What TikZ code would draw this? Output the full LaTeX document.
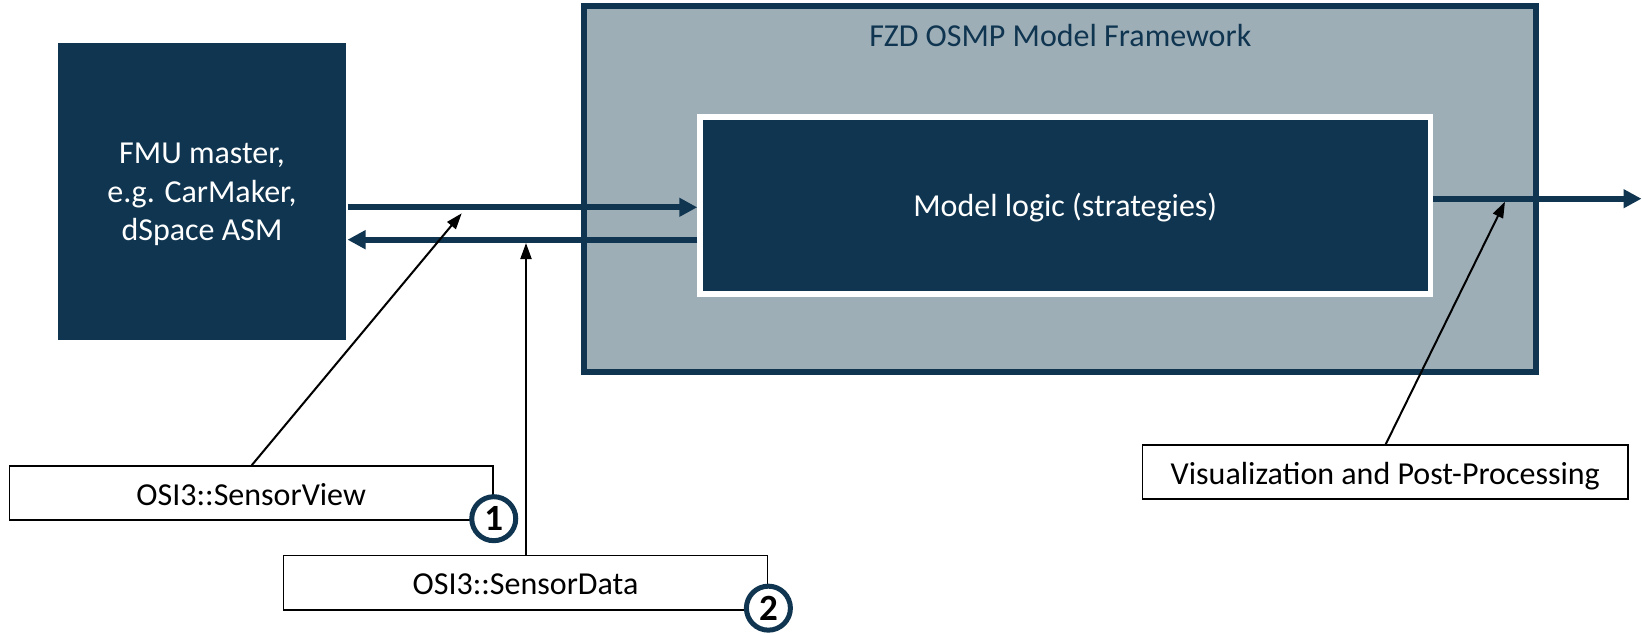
\documentclass[tikz,border=0pt]{standalone}
\usepackage{fontspec}
\setmainfont{Carlito}
\usetikzlibrary{arrows.meta}
\definecolor{navy}{HTML}{0F3550}
\definecolor{framefill}{HTML}{9EAEB7}

\begin{document}
\begin{tikzpicture}[x=1pt,y=-1pt,
  darkbox/.style={fill=navy,text=white,align=center,inner sep=0pt,
    font=\fontsize{32}{38.4}\selectfont},
  tag/.style={draw=black,line width=1.4pt,fill=white,inner sep=0pt,
    text height=24pt,text depth=0pt,font=\fontsize{32}{38}\selectfont},
  badge/.style={circle,draw=navy,line width=5pt,fill=white,minimum size=44pt,
    inner sep=0pt,font=\bfseries\fontsize{37}{37}\selectfont},
  flow/.style={draw=navy,line width=6pt,-{Triangle[length=18pt,width=18pt]}},
  pointer/.style={draw=black,line width=2pt,-{Triangle[length=16pt,width=11pt]}}
]
\useasboundingbox (0,0) rectangle (1642,633);

% framework container with its title
\node[fill=framefill,draw=navy,line width=5.5pt,minimum width=952pt,minimum height=366.4pt]
  (frame) at (1060.2,189) {};
\node[text=navy,anchor=base,font=\fontsize{32}{38}\selectfont] (title) at (1060.3,46)
  {FZD OSMP Model Framework};

% model logic block
\node[darkbox,draw=white,line width=5.5pt,minimum width=730.5pt,minimum height=177.2pt,
  text height=29pt,text depth=6.4pt]
  (logic) at (1065.25,205.4) {Model logic (strategies)};

% simulation master
\node[darkbox,minimum width=288pt,minimum height=296.7pt] (fmu) at (202,191.7)
  {\rule{0pt}{26.4pt}FMU master,\\e.g. CarMaker,\\dSpace ASM};

% message boxes
\node[tag,minimum width=483.7pt,minimum height=54pt] (sv) at (251.2,493) {OSI3::SensorView};
\node[tag,minimum width=484.4pt,minimum height=54.3pt] (sd) at (525.5,582.8) {OSI3::SensorData};
\node[tag,minimum width=485.3pt,minimum height=54pt] (vis) at (1385.3,472) {Visualization and Post-Processing};

% data flow arrows
\coordinate (fwd) at (0,207.3);
\coordinate (bwd) at (0,239.7);
\coordinate (outy) at (0,198.7);
\coordinate (outend) at (1641.5,198.7);
\draw[flow,shorten <=1.3pt] (fmu.east |- fwd) -- (logic.west |- fwd);
\draw[flow,shorten >=1.3pt] (logic.west |- bwd) -- (fmu.east |- bwd);
\draw[flow] (logic.east |- outy) -- (outend);

% pointers from the message boxes to the flows
\coordinate (svx) at (251.7,0);
\coordinate (sdx) at (526,0);
\coordinate (visx) at (1385.7,0);
\coordinate (tip1) at (461.7,213.3);
\coordinate (tip2) at (526,243);
\coordinate (tip3) at (1505,201.7);
\draw[pointer] (sv.north -| svx) -- (tip1);
\draw[pointer] (sd.north -| sdx) -- (tip2);
\draw[pointer] (vis.north -| visx) -- (tip3);

% numbered badges
\node[badge,yshift=2pt] (b1) at (sv.south east) {1};
\node[badge,yshift=2.5pt] (b2) at (sd.south east) {2};
\end{tikzpicture}
\end{document}
